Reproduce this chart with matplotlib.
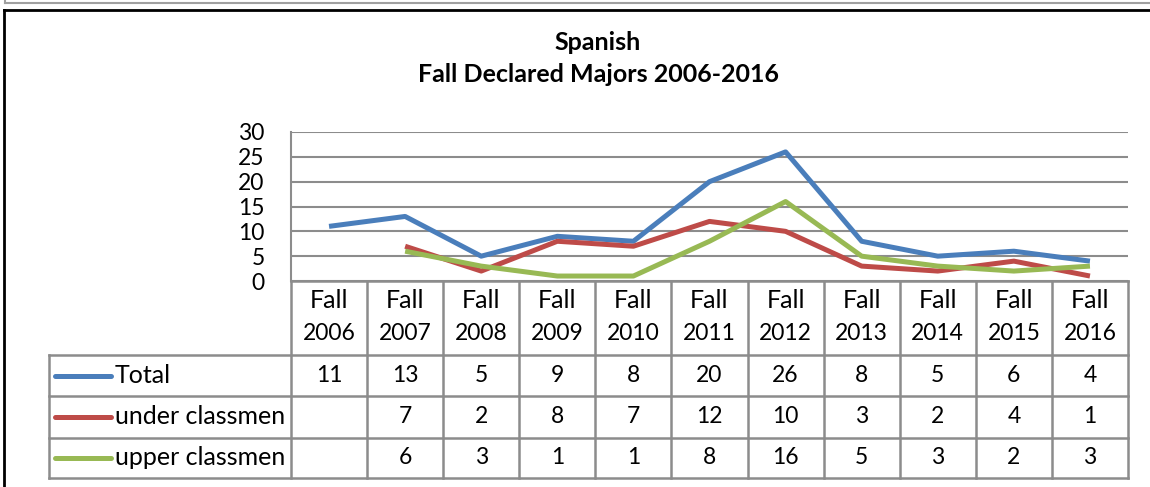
import matplotlib
matplotlib.use("Agg")
import matplotlib.pyplot as plt
from matplotlib.lines import Line2D

plt.rcParams['font.family'] = ['Lato', 'DejaVu Sans']

years = ["2006", "2007", "2008", "2009", "2010", "2011",
         "2012", "2013", "2014", "2015", "2016"]
total = [11, 13, 5, 9, 8, 20, 26, 8, 5, 6, 4]
under = [None, 7, 2, 8, 7, 12, 10, 3, 2, 4, 1]
upper = [None, 6, 3, 1, 1, 8, 16, 5, 3, 2, 3]

names = ["Total", "under classmen", "upper classmen"]
colors = ["#4a7ebb", "#be4b48", "#98b954"]
grid_c = "#8c8c8c"

W, H = 1150, 487
fig = plt.figure(figsize=(W / 100, H / 100), dpi=100)

# pixel helpers
def box(x0, y0, x1, y1):
    return [x0 / W, 1 - y1 / H, (x1 - x0) / W, (y1 - y0) / H]

# outer frame bits
fig.add_artist(Line2D([5 / W, 1], [1 - 3 / H, 1 - 3 / H], color="#a0a0a0", lw=1.5))
fig.add_artist(Line2D([5 / W, 5 / W], [1, 1 - 3 / H], color="#a0a0a0", lw=1.5))
fig.add_artist(Line2D([4 / W, 1], [1 - 10 / H, 1 - 10 / H], color="black", lw=2))
fig.add_artist(Line2D([4 / W, 4 / W], [1 - 10 / H, 0], color="black", lw=2))

fig.text(598 / W, 1 - 42 / H, "Spanish", ha="center", va="center",
         fontsize=18, fontweight="bold")
fig.text(598 / W, 1 - 75 / H, "Fall Declared Majors 2006-2016", ha="center",
         va="center", fontsize=18, fontweight="bold")

txt = 18    # letters
num = 16.5  # digits

# plot area
left, right, top, bottom = 291, 1128, 132, 281
ax = fig.add_axes(box(left, top, right, bottom))
n = len(years)
x = list(range(n))
ax.set_xlim(-0.5, n - 0.5)
ax.set_ylim(0, 30)
ax.set_yticks(range(0, 31, 5))
ax.tick_params(axis="y", length=0, labelsize=num, pad=19)
ax.set_xticks([])
for s in ["top", "right", "bottom"]:
    ax.spines[s].set_visible(False)
ax.spines["left"].set_color(grid_c)
ax.spines["left"].set_linewidth(1.5)
ax.yaxis.grid(True, color=grid_c, lw=1.5)
ax.set_axisbelow(True)

for vals, c in zip([total, under, upper], colors):
    xs = [i for i, v in zip(x, vals) if v is not None]
    ys = [v for v in vals if v is not None]
    ax.plot(xs, ys, color=c, lw=3.6, solid_capstyle="butt", zorder=3)

# data table below
tleft, tbottom = 49, 478
col_w = (right - left) / n
tax = fig.add_axes(box(tleft, bottom, right, tbottom))
tax.set_xlim(-0.5 - (left - tleft) / col_w, n - 0.5)
tax.set_ylim(tbottom - bottom, 0)
tax.axis("off")
rows = [0, 74, 115, 156.5, 197]

lk = dict(color=grid_c, lw=1.8, clip_on=False)
# horizontal lines
tax.plot([-0.5, n - 0.5], [0, 0], **lk)
for r in rows[1:]:
    tax.plot([tax.get_xlim()[0], n - 0.5], [r, r], **lk)
# vertical lines
for k in range(n + 1):
    tax.plot([k - 0.5, k - 0.5], [0, rows[-1]], **lk)
tax.plot([tax.get_xlim()[0]] * 2, [rows[1], rows[-1]], **lk)

for i, yr in enumerate(years):
    tax.text(i, 20, "Fall", ha="center", va="center", fontsize=txt)
    tax.text(i, 52, yr, ha="center", va="center", fontsize=num)

x0 = tax.get_xlim()[0]
for j, (name, vals, c) in enumerate(zip(names, [total, under, upper], colors)):
    yc = (rows[j + 1] + rows[j + 2]) / 2
    tax.plot([x0 + 6 / col_w, x0 + 62 / col_w], [yc, yc], color=c, lw=3.6,
             solid_capstyle="round")
    tax.text(x0 + 66 / col_w, yc, name, ha="left", va="center", fontsize=txt)
    for i, v in enumerate(vals):
        if v is not None:
            tax.text(i, yc, str(v), ha="center", va="center", fontsize=num)

fig.savefig("out.png", dpi=100)
